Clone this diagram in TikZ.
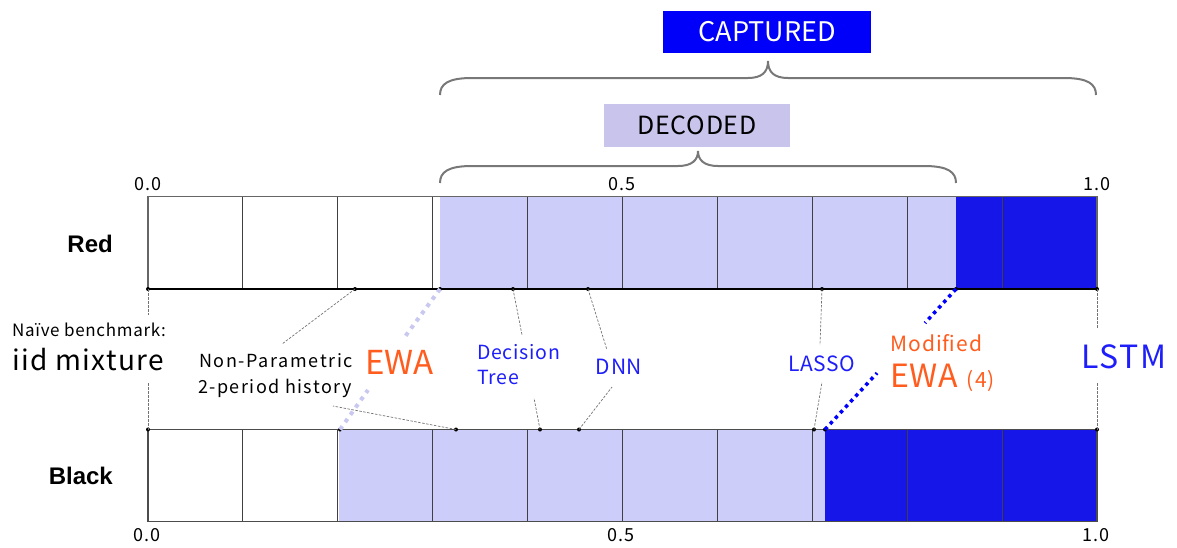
\documentclass[tikz,border=0pt]{standalone}
\usepackage{fontspec}
\setmainfont{Noto Sans CJK JP}
\newfontfamily\rowfont{Liberation Sans}
\definecolor{lightfill}{RGB}{205,205,250}
\definecolor{darkfill}{RGB}{22,22,232}
\definecolor{capblue}{RGB}{0,0,250}
\definecolor{decfill}{RGB}{200,196,236}
\definecolor{orangetxt}{RGB}{255,92,30}
\definecolor{bluetxt}{RGB}{30,30,250}
\definecolor{ewadots}{RGB}{200,200,240}
\definecolor{bracegray}{RGB}{120,120,120}
% size and tracking in one go
\newcommand{\fs}[2]{\fontsize{#1}{#1}\selectfont\addfontfeature{LetterSpace=#2}}
\begin{document}
\begin{tikzpicture}[x=1pt,y=-1pt,
  txt/.style={inner sep=0pt, anchor=base},
  tick/.style={txt, font=\fs{18}{7}},
  rowlab/.style={txt, anchor=base east, font=\rowfont\bfseries\fontsize{24}{24}\selectfont},
  gridline/.style={draw=black!75, line width=1.1pt},
  dotmark/.style={circle, fill=black, inner sep=0pt, minimum size=4pt},
  leader/.style={draw=black!55, line width=0.7pt, dash pattern=on 2.5pt off 1.5pt},
  ewaline/.style={draw=ewadots, line width=4pt, dash pattern=on 4pt off 5pt},
  mewaline/.style={draw=blue, line width=3.5pt, dash pattern=on 3.5pt off 4pt},
  bracepath/.style={draw=bracegray, line width=2pt},
  ]
\useasboundingbox (0,0) rectangle (1177,547);

% ---------- Red bar ----------
\fill[lightfill] (439.5,196.5) rectangle (955.7,289);
\fill[darkfill] (955.7,196.5) rectangle (1097,289);
\foreach \v in {1,...,9} {
  \draw[gridline] ({148+94.9*\v},196.5) -- ({148+94.9*\v},289);
}
\draw[draw=black!60, line width=1.2pt] (148,289) -- (148,196.5) -- (1097,196.5) -- (1097,289);
\draw[draw=black, line width=1.6pt] (148,289) -- (1097,289);

% ---------- Black bar ----------
\fill[lightfill] (338.5,429.5) rectangle (824.5,521.5);
\fill[darkfill] (824.5,429.5) rectangle (1097,521.5);
\foreach \v in {1,...,9} {
  \draw[gridline] ({148+94.9*\v},429.5) -- ({148+94.9*\v},521.5);
}
\draw[draw=black!70, line width=1.2pt] (148,429.5) rectangle (1097,521.5);

% ---------- Scale labels ----------
\node[tick] (t0r) at (148,190) {0.0};
\node[tick] (t5r) at (622,190) {0.5};
\node[tick] (t1r) at (1097,190) {1.0};
\node[tick] (t0b) at (147,541) {0.0};
\node[tick] (t5b) at (621,541) {0.5};
\node[tick] (t1b) at (1096,541) {1.0};

\node[rowlab] (red) at (113,252.5) {Red};
\node[rowlab] (black) at (113,484) {Black};

% ---------- Method labels ----------
\node[txt, anchor=base west, font=\fs{17}{4}] (naive) at (12,336.5) {Naïve benchmark:};
\node[txt, anchor=base west, font=\fs{28}{5}] (iid) at (12,370) {iid mixture};
\node[txt, anchor=base west, font=\fs{18}{9}] (np1) at (199,367) {Non-Parametric};
\node[txt, anchor=base west, font=\fs{18}{8}] (np2) at (198,393.5) {2-period history};
\node[txt, anchor=base west, font=\fs{33}{0}, text=orangetxt] (ewa) at (365,374.5) {EWA};
\node[txt, anchor=base west, font=\fs{19.5}{4}, text=bluetxt] (dt1) at (477,359.5) {Decision};
\node[txt, anchor=base west, font=\fs{19.5}{4}, text=bluetxt] (dt2) at (477,384.5) {Tree};
\node[txt, font=\fs{21}{3}, text=bluetxt] (dnn) at (619,374.5) {DNN};
\node[txt, font=\fs{21}{2}, text=bluetxt] (lasso) at (822,371) {LASSO};
\node[txt, anchor=base west, font=\fs{21}{5}, text=orangetxt] (mod1) at (890,351) {Modified};
\node[txt, anchor=base west, font=\fs{32}{2}, text=orangetxt] (mod2) at (890,387) {EWA\hspace{9pt}{\fs{21}{5}(4)}};
\node[txt, font=\fs{32}{5}, text=bluetxt] (lstm) at (1124,368.5) {LSTM};

% ---------- Markers on the red bar ----------
\node[dotmark] (r0)  at (148,289) {};
\node[dotmark] (rnp) at (355,289) {};
\node[dotmark] (rew) at (440,289) {};
\node[dotmark] (rdt) at (513,289) {};
\node[dotmark] (rdn) at (588,289) {};
\node[dotmark] (rla) at (822,289) {};
\node[dotmark] (rme) at (956,289) {};
\node[dotmark] (rls) at (1097,289) {};

% ---------- Markers on the black bar ----------
\node[dotmark] (b0)  at (148,429.5) {};
\node[dotmark] (bew) at (340,429.5) {};
\node[dotmark] (bnp) at (456,429.5) {};
\node[dotmark] (bdt) at (540,429.5) {};
\node[dotmark] (bdn) at (579,429.5) {};
\node[dotmark] (bla) at (814,429.5) {};
\node[dotmark] (bme) at (825,429.5) {};
\node[dotmark] (bls) at (1097,429.5) {};

% ---------- Leader ends ----------
\coordinate (e0r)  at (148,315);   \coordinate (e0b)  at (148,383);
\coordinate (enpr) at (282,344);   \coordinate (enpb) at (333,406);
\coordinate (eewr) at (404,338);   \coordinate (eewb) at (368,390);
\coordinate (edtr) at (522,335);   \coordinate (edtb) at (534,398);
\coordinate (ednr) at (607,350);   \coordinate (ednb) at (612,387);
\coordinate (elar) at (820,345);   \coordinate (elab) at (822,382);
\coordinate (emer) at (925,323);   \coordinate (emeb) at (877,373);
\coordinate (elsr) at (1097,328);  \coordinate (elsb) at (1097,383);

\draw[leader] (r0.center) -- (e0r);   \draw[leader] (b0.center) -- (e0b);
\draw[leader] (rnp.center) -- (enpr); \draw[leader] (bnp.center) -- (enpb);
\draw[leader] (rdt.center) -- (edtr); \draw[leader] (bdt.center) -- (edtb);
\draw[leader] (rdn.center) -- (ednr); \draw[leader] (bdn.center) -- (ednb);
\draw[leader] (rla.center) -- (elar); \draw[leader] (bla.center) -- (elab);
\draw[leader] (rls.center) -- (elsr); \draw[leader] (bls.center) -- (elsb);
\draw[ewaline] (rew.center) -- (eewr);  \draw[ewaline] (bew.center) -- (eewb);
\draw[mewaline] (rme.center) -- (emer); \draw[mewaline] (bme.center) -- (emeb);

% ---------- Braces and their boxes ----------
\draw[bracepath] (440,95) .. controls (440,84) and (448,78) .. (472,78) -- (748,78)
  .. controls (762,78) and (768,72) .. (768,61)
  .. controls (768,72) and (774,78) .. (788,78) -- (1064,78)
  .. controls (1088,78) and (1096,84) .. (1096,95);
\draw[bracepath] (440,183) .. controls (440,172) and (448,166) .. (472,166) -- (678,166)
  .. controls (692,166) and (698,160) .. (698,151)
  .. controls (698,160) and (704,166) .. (718,166) -- (924,166)
  .. controls (948,166) and (956,172) .. (956,183);

\node[fill=capblue, text=white, font=\fs{27}{0}, minimum width=208pt, minimum height=42pt, inner sep=0pt] (captured) at (767,32) {CAPTURED};
\node[fill=decfill, text=black, font=\fs{25}{3}, minimum width=186pt, minimum height=43pt, inner sep=0pt] (decoded) at (697,125.5) {DECODED};
\end{tikzpicture}
\end{document}
